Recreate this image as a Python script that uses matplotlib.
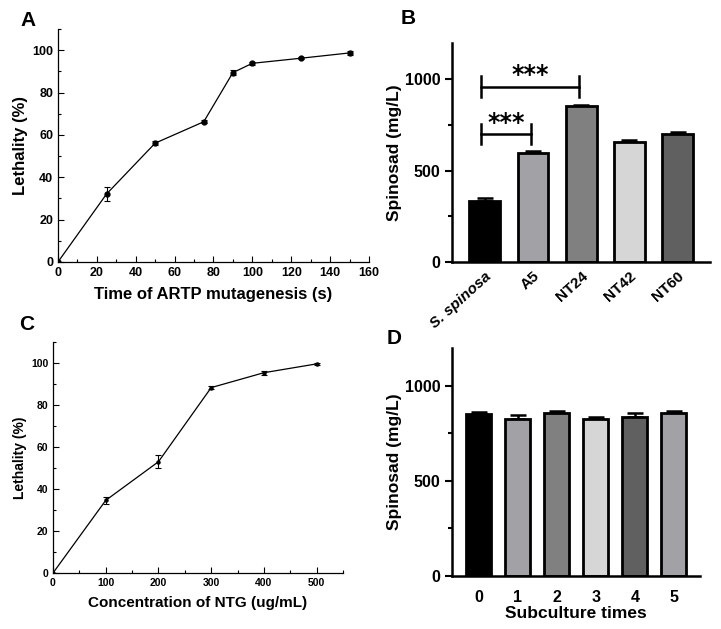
import numpy as np
import matplotlib.pyplot as plt
from matplotlib.ticker import MultipleLocator

plt.rcParams['font.family'] = ['Liberation Sans', 'DejaVu Sans']
plt.rcParams['font.weight'] = 'bold'

# Panel A: lethality vs ARTP time
artp_time = [0, 25, 50, 75, 90, 100, 125, 150]
artp_lethal = [0, 32.1, 56.1, 66.2, 89.4, 93.8, 96.2, 98.7]
artp_err = [0, 3.2, 1.0, 0.6, 1.1, 0.6, 0.5, 0.8]

# Panel B: spinosad titer of strains
strains = ['S. spinosa', 'A5', 'NT24', 'NT42', 'NT60']
strain_titer = [333, 595, 853, 655, 702]
strain_err = [20, 15, 8, 15, 12]
strain_colors = ['#000000', '#a2a1a6', '#808080', '#d6d6d6', '#606060']

# Panel C: lethality vs NTG concentration
ntg_conc = [0, 100, 200, 300, 400, 500]
ntg_lethal = [0, 34.6, 53.0, 88.3, 95.4, 99.6]
ntg_err = [0, 1.7, 3.0, 0.7, 1.0, 0.4]

# Panel D: stability over subculture
subculture = ['0', '1', '2', '3', '4', '5']
sub_titer = [853, 825, 856, 826, 835, 856]
sub_err = [9, 22, 11, 11, 25, 10]
sub_colors = ['#000000', '#a2a1a6', '#808080', '#d6d6d6', '#606060', '#a2a1a6']

fig = plt.figure(figsize=(7.21, 6.29), dpi=100)


def line_panel(ax, x, y, err, xlim, xmajor, xminor, xlabel, tsize, xlsize, ylsize, ms):
    ax.errorbar(x, y, yerr=err, color='black', lw=0.9, marker='o', ms=ms,
                capsize=2.5, elinewidth=0.8, capthick=0.8)
    ax.set_xlim(*xlim)
    ax.set_ylim(0, 110)
    ax.xaxis.set_major_locator(MultipleLocator(xmajor))
    ax.xaxis.set_minor_locator(MultipleLocator(xminor))
    ax.yaxis.set_minor_locator(MultipleLocator(10))
    ax.set_yticks([0, 20, 40, 60, 80, 100])
    ax.spines[['top', 'right']].set_visible(False)
    for s in ['left', 'bottom']:
        ax.spines[s].set_linewidth(0.9)
    ax.tick_params(which='both', direction='in', width=0.8, labelsize=tsize, pad=3.5)
    ax.tick_params(which='major', length=4)
    ax.tick_params(which='minor', length=2.5)
    for lab in ax.get_xticklabels() + ax.get_yticklabels():
        lab.set_fontweight('bold')
    ax.set_xlabel(xlabel, fontsize=xlsize, fontweight='bold', labelpad=6)
    ax.set_ylabel('Lethality (%)', fontsize=ylsize, fontweight='bold', labelpad=3)


def bar_panel(ax, labels, vals, errs, colors, xlim):
    pos = np.arange(len(labels))
    ax.bar(pos, vals, width=0.64, color=colors, edgecolor='black', linewidth=2.0, zorder=2)
    ax.errorbar(pos, vals, yerr=[np.zeros(len(errs)), errs], fmt='none', ecolor='black',
                elinewidth=1.8, capsize=6, capthick=1.8, zorder=1)
    ax.set_xlim(*xlim)
    ax.set_ylim(0, 1200)
    ax.set_yticks([0, 500, 1000])
    ax.yaxis.set_minor_locator(MultipleLocator(250))
    ax.spines[['top', 'right']].set_visible(False)
    for s in ['left', 'bottom']:
        ax.spines[s].set_linewidth(1.8)
    ax.tick_params(axis='y', which='both', direction='out', width=1.5, labelsize=11.5)
    ax.tick_params(axis='y', which='major', length=5)
    ax.tick_params(axis='y', which='minor', length=3)
    ax.tick_params(axis='x', length=0)
    ax.set_ylabel('Spinosad (mg/L)', fontsize=12.5, fontweight='bold', labelpad=2)
    for lab in ax.get_yticklabels():
        lab.set_fontweight('bold')
    ax.set_xticks(pos)
    return pos


# A
axA = fig.add_axes([0.0804, 0.5835, 0.4313, 0.3704])
line_panel(axA, artp_time, artp_lethal, artp_err, (0, 160), 20, 10,
           'Time of ARTP mutagenesis (s)', 9, 12, 12, 3.5)

# C
axC = fig.add_axes([0.0735, 0.0890, 0.4022, 0.3672])
line_panel(axC, ntg_conc, ntg_lethal, ntg_err, (0, 550), 100, 50,
           'Concentration of NTG (ug/mL)', 7.5, 11, 10, 2.2)

# B
axB = fig.add_axes([0.6269, 0.5835, 0.3578, 0.3482])
posB = bar_panel(axB, strains, strain_titer, strain_err, strain_colors, (-0.68, 4.67))
axB.set_xticklabels(strains, rotation=42, ha='right', rotation_mode='anchor',
                    fontsize=11, fontweight='bold')
axB.get_xticklabels()[0].set_fontstyle('italic')
axB.tick_params(axis='x', pad=5)

# significance brackets
brackets = [(0, 1, 702, 55, 785), (0, 2, 961, 58, 1044)]
for i, j, h, d, sy in brackets:
    xl, xr = posB[i] - 0.08, posB[j] - 0.05
    axB.plot([xl, xr], [h, h], color='black', lw=1.8)
    axB.plot([xl, xl], [h - d, h + d], color='black', lw=1.8)
    axB.plot([xr, xr], [h - d, h + d], color='black', lw=1.8)
    axB.text((xl + xr) / 2, sy - 22, '***', ha='center', va='center',
             fontsize=17, fontweight='bold', family='DejaVu Sans')

# D
axD = fig.add_axes([0.6269, 0.0843, 0.3440, 0.3625])
bar_panel(axD, subculture, sub_titer, sub_err, sub_colors, (-0.69, 5.67))
axD.set_xticklabels(subculture, fontsize=11.5, fontweight='bold')
axD.tick_params(axis='x', pad=10)
axD.set_xlabel('Subculture times', fontsize=12.5, fontweight='bold', labelpad=1)

# panel letters
for lbl, x, y in [('A', 20, 20), ('B', 401, 18), ('C', 19, 325), ('D', 387, 338)]:
    fig.text(x / 721, 1 - y / 629, lbl, fontsize=15, fontweight='bold', va='center', ha='left')

fig.savefig('out.png', dpi=100)
